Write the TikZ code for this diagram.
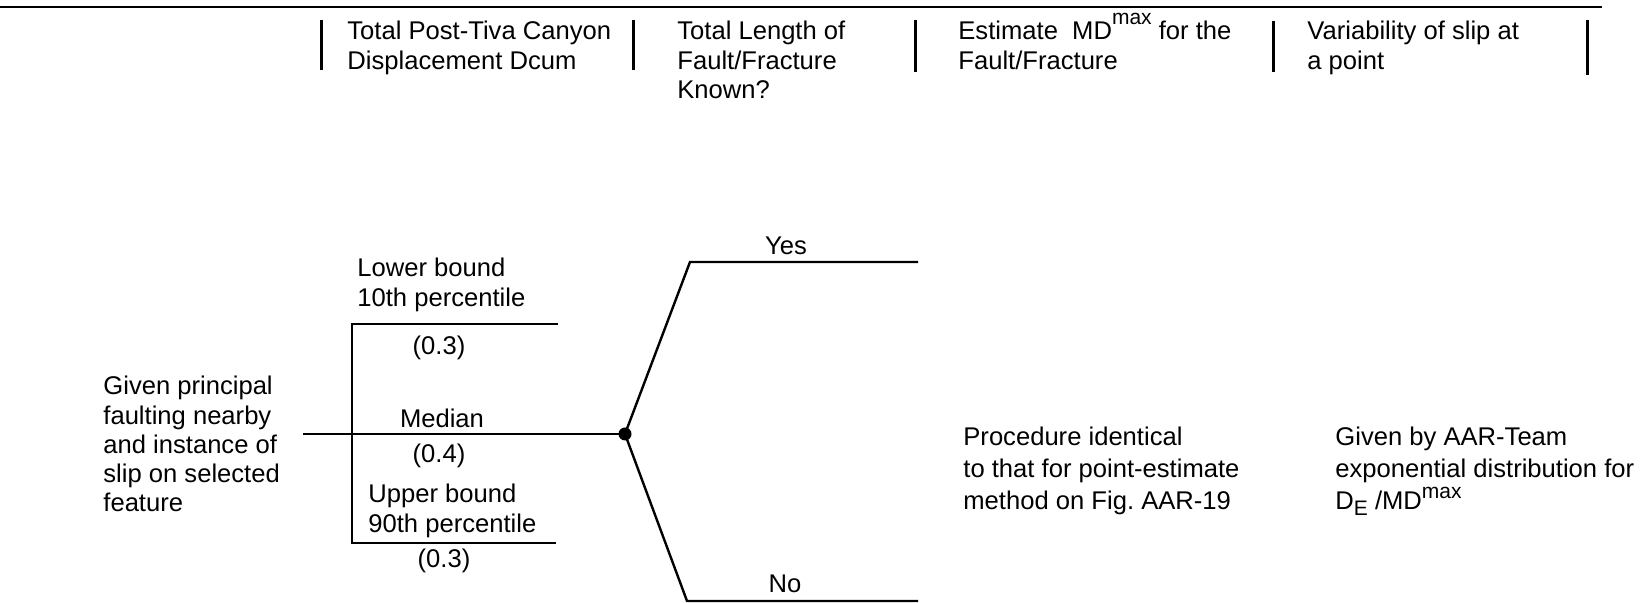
\documentclass[tikz,border=0pt]{standalone}
\usepackage{fontspec}
\setmainfont{Liberation Sans}
\newcommand\stk[1]{\vtop{\baselineskip=14.6pt\lineskiplimit=-20pt\halign{##\hfil\cr#1\crcr}}}
\newcommand\stkw[1]{\vtop{\baselineskip=16pt\lineskiplimit=-20pt\halign{##\hfil\cr#1\crcr}}}
\newcommand\supmax{\raisebox{0.62em}{\fontsize{10.5pt}{10.5pt}\selectfont max}}
\newcommand\supmaxb{\raisebox{0.45em}{\fontsize{10.5pt}{10.5pt}\selectfont max}}
\newcommand\subE{\raisebox{-0.22em}{\fontsize{10.5pt}{10.5pt}\selectfont E}}
\begin{document}
\begin{tikzpicture}[x=0.5pt,y=-0.5pt,
  every node/.style={inner sep=0pt, font=\fontsize{12.8pt}{14.6pt}\selectfont},
  lbl/.style={anchor=base west},
  clbl/.style={anchor=base},
  rulestyle/.style={line width=1.3pt},
  barstyle/.style={line width=1.5pt},
  branch/.style={line width=1.2pt, line join=miter}]
\useasboundingbox (0,0) rectangle (1645,603);
% top rule
\coordinate (rl) at (0,7);
\coordinate (rr) at (1602,7);
\draw[rulestyle] (rl) -- (rr);
% header separators
\coordinate (b1t) at (321,20);  \coordinate (b1b) at (321,70);
\coordinate (b2t) at (633,20);  \coordinate (b2b) at (633,70);
\coordinate (b3t) at (915,20);  \coordinate (b3b) at (915,72);
\coordinate (b4t) at (1273,21); \coordinate (b4b) at (1273,72);
\coordinate (b5t) at (1587,20); \coordinate (b5b) at (1587,75);
\draw[barstyle] (b1t) -- (b1b);
\draw[barstyle] (b2t) -- (b2b);
\draw[barstyle] (b3t) -- (b3b);
\draw[barstyle] (b4t) -- (b4b);
\draw[barstyle] (b5t) -- (b5b);
% header texts
\node[lbl] (h1) at (347,40) {\stk{Total Post-Tiva Canyon\cr Displacement Dcum}};
\node[lbl] (h2) at (677,40) {\stk{Total Length of\cr Fault/Fracture\cr Known?}};
\node[lbl] (h3) at (958,40) {\stk{Estimate\ \ MD\supmax\ for the\cr Fault/Fracture}};
\node[lbl] (h4) at (1307,40) {\stk{Variability of slip at\cr a point}};
% tree
\coordinate (root) at (303,434);
\coordinate (dot) at (625,434);
\coordinate (ub) at (352,324);
\coordinate (ue) at (558,324);
\coordinate (lb) at (352,543);
\coordinate (le) at (556,543);
\coordinate (yc) at (690,262);
\coordinate (ye) at (918,262);
\coordinate (nc) at (687,601);
\coordinate (ne) at (918,601);
\draw[branch] (root) -- (dot);
\draw[branch] (ue) -- (ub) -- (lb) -- (le);
\draw[branch] (dot) -- (yc) -- (ye);
\draw[branch] (dot) -- (nc) -- (ne);
\fill (dot) circle (6.5);
% tree labels
\node[lbl] (given) at (103,395) {\stk{Given principal\cr faulting nearby\cr and instance of\cr slip on selected\cr feature}};
\node[lbl] (lowb) at (357,277) {\stk{Lower bound\cr 10th percentile}};
\node[clbl] (p1) at (439,355) {(0.3)};
\node[clbl] (med) at (442,428) {Median};
\node[clbl] (p2) at (439,463) {(0.4)};
\node[lbl] (upb) at (368,503) {\stk{Upper bound\cr 90th percentile}};
\node[clbl] (p3) at (444,568) {(0.3)};
\node[clbl] (yes) at (786,255) {Yes};
\node[clbl] (no) at (785,593) {No};
% right texts
\node[lbl] (proc) at (963,446) {\stkw{Procedure identical\cr to that for point-estimate\cr method on Fig.\ AAR-19}};
\node[lbl] (aar) at (1335,446) {\stkw{Given by AAR-Team\cr exponential distribution for\cr D\subE\ /MD\supmaxb}};
\end{tikzpicture}
\end{document}
